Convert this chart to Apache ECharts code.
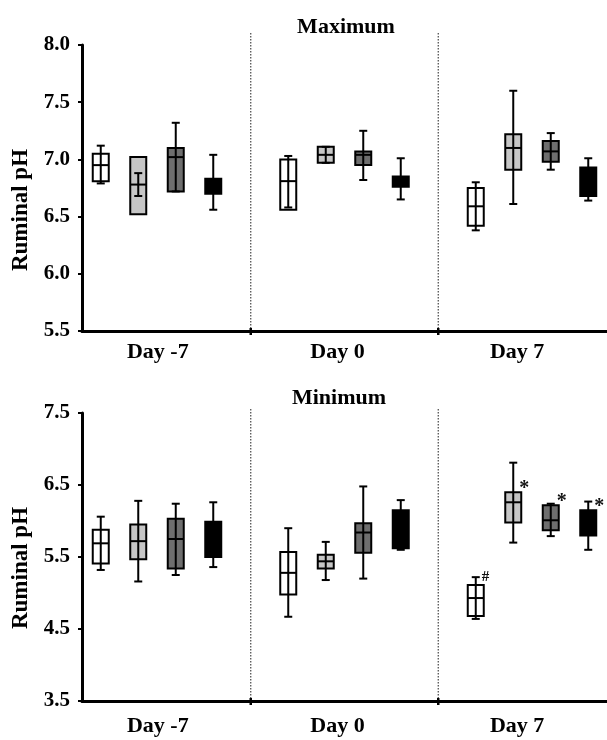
<!DOCTYPE html>
<html>
<head>
<meta charset="utf-8">
<script src="https://cdn.jsdelivr.net/npm/echarts@6/dist/echarts.min.js"></script>
<style>
html, body { margin: 0; padding: 0; background: #fff; }
#chart { width: 607px; height: 740px; }
</style>
</head>
<body>
<div id="chart"></div>
<script>
var days = ['Day -7', 'Day 0', 'Day 7'];
var groups = ['G1', 'G2', 'G3', 'G4'];
var groupColors = ['#ffffff', '#c6c6c6', '#6e6e6e', '#000000'];

// one row per day: [whisker low, box low, centre line, box high, whisker high]
var maxG1 = [[6.79, 6.81, 6.95, 7.05, 7.12], [6.58, 6.56, 6.81, 7.00, 7.03], [6.38, 6.42, 6.59, 6.75, 6.80]];
var maxG2 = [[6.68, 6.52, 6.78, 7.02, 6.88], [6.97, 6.97, 7.04, 7.11, 7.11], [6.61, 6.91, 7.10, 7.22, 7.60]];
var maxG3 = [[6.72, 6.72, 7.02, 7.10, 7.32], [6.82, 6.95, 7.04, 7.07, 7.25], [6.91, 6.98, 7.07, 7.16, 7.23]];
var maxG4 = [[6.56, 6.70, 6.76, 6.83, 7.04], [6.65, 6.76, 6.80, 6.85, 7.01], [6.64, 6.68, 6.81, 6.93, 7.01]];

var minG1 = [[5.32, 5.41, 5.69, 5.88, 6.06], [4.67, 4.98, 5.28, 5.57, 5.90], [4.64, 4.68, 4.93, 5.11, 5.22]];
var minG2 = [[5.16, 5.47, 5.72, 5.95, 6.28], [5.18, 5.34, 5.44, 5.53, 5.71], [5.70, 5.98, 6.26, 6.40, 6.81]];
var minG3 = [[5.25, 5.34, 5.75, 6.03, 6.24], [5.20, 5.56, 5.84, 5.97, 6.48], [5.79, 5.87, 6.01, 6.22, 6.24]];
var minG4 = [[5.36, 5.50, 5.75, 5.99, 6.26], [5.60, 5.62, 5.90, 6.15, 6.29], [5.60, 5.80, 5.98, 6.15, 6.27]];

// significance marks per group and day
var maxMarks = [['', '', ''], ['', '', ''], ['', '', ''], ['', '', '']];
var minMarks = [['', '', '#'], ['', '', '*'], ['', '', '*'], ['', '', '*']];

var maxTicks = [5.5, 8.0, 0.5];   // min, max, interval
var minTicks = [3.5, 7.5, 1];

var FONT = 'Liberation Serif';

// one slot per box, an empty slot between days
var slots = [], gapSlots = [];
days.forEach(function (d, di) {
    groups.forEach(function (g) { slots.push(d + ' ' + g); });
    if (di < days.length - 1) {
        slots.push('gap ' + di);
        gapSlots.push('gap ' + di);
    }
});

function buildPanel(seriesList, marks) {
    var data = [], fills = [], flags = [];
    seriesList.forEach(function (rows, gi) {
        rows.forEach(function (r, di) {
            data.push([days[di] + ' ' + groups[gi]].concat(r));
            fills.push(groupColors[gi]);
            flags.push(marks[gi][di]);
        });
    });
    return {data: data, fills: fills, marks: flags};
}

function boxRenderer(fills, marks) {
    return function (params, api) {
        var xi = api.value(0);
        var cx = api.coord([xi, api.value(3)])[0];
        var y = [1, 2, 3, 4, 5].map(function (d) { return api.coord([xi, api.value(d)])[1]; });
        var half = 8, cap = 4;
        var top = Math.min(y[1], y[3]), bot = Math.max(y[1], y[3]);
        var line = {stroke: '#000', lineWidth: 2};
        var children = [
            {type: 'rect', shape: {x: cx - half, y: top, width: half * 2, height: bot - top},
                style: {fill: fills[params.dataIndex], stroke: '#000', lineWidth: 2}},
            {type: 'line', shape: {x1: cx - half, y1: y[2], x2: cx + half, y2: y[2]}, style: line},
            {type: 'line', shape: {x1: cx, y1: y[0], x2: cx, y2: y[4]}, style: line},
            {type: 'line', shape: {x1: cx - cap, y1: y[0], x2: cx + cap, y2: y[0]}, style: line},
            {type: 'line', shape: {x1: cx - cap, y1: y[4], x2: cx + cap, y2: y[4]}, style: line}
        ];
        var m = marks[params.dataIndex];
        if (m) {
            var big = m === '*';
            children.push({type: 'text', x: cx + half - 2, y: top - (big ? 3 : 8),
                style: {text: m, fill: '#111', font: 'bold ' + (big ? 20 : 15) + 'px "' + FONT + '"',
                    align: 'left', verticalAlign: 'middle'}});
        }
        return {type: 'group', children: children};
    };
}

function dividerRenderer(extra) {
    return function (params, api) {
        var x = api.coord([api.value(0), 0])[0];
        var cs = params.coordSys;
        var bottom = cs.y + cs.height;
        return {type: 'group', children: [
            {type: 'line', shape: {x1: x, y1: cs.y - extra, x2: x, y2: bottom},
                style: {stroke: '#444', lineWidth: 1.2, lineDash: [1.5, 1.5]}},
            {type: 'line', shape: {x1: x, y1: bottom - 3, x2: x, y2: bottom + 4},
                style: {stroke: '#000', lineWidth: 2.5}}
        ]};
    };
}

var maxPanel = buildPanel([maxG1, maxG2, maxG3, maxG4], maxMarks);
var minPanel = buildPanel([minG1, minG2, minG3, minG4], minMarks);

function mainX(gi) {
    return {
        type: 'category', gridIndex: gi, data: slots, boundaryGap: true,
        axisLine: {lineStyle: {color: '#000', width: 3}},
        axisTick: {show: false}, axisLabel: {show: false}, splitLine: {show: false}
    };
}
function labelX(gi, margin) {
    return {
        type: 'category', gridIndex: gi, data: days,
        axisLine: {show: false}, axisTick: {show: false},
        axisLabel: {margin: margin, color: '#000', fontSize: 22, fontWeight: 'bold', fontFamily: FONT}
    };
}
function mainY(gi, t, pad) {
    return {
        type: 'value', gridIndex: gi, min: t[0], max: t[1], interval: t[2],
        name: 'Ruminal pH', nameLocation: 'middle', nameGap: 46,
        nameTextStyle: {color: '#000', fontSize: 23, fontWeight: 'bold', fontFamily: FONT, padding: [0, pad, 0, 0]},
        axisLine: {show: true, lineStyle: {color: '#000', width: 3}},
        axisTick: {show: true, length: 4, lineStyle: {color: '#000', width: 2}},
        axisLabel: {margin: 12, color: '#000', fontSize: 21, fontWeight: 'bold', fontFamily: FONT,
            formatter: function (v) { return v.toFixed(1); }},
        splitLine: {show: false}
    };
}

var chart = echarts.init(document.getElementById('chart'));
var option = {
    animation: false,
    backgroundColor: '#fff',
    title: [
        {text: 'Maximum', left: 341, top: 11, textAlign: 'center',
            textStyle: {color: '#000', fontSize: 22, fontWeight: 'bold', fontFamily: FONT}},
        {text: 'Minimum', left: 334, top: 382, textAlign: 'center',
            textStyle: {color: '#000', fontSize: 22, fontWeight: 'bold', fontFamily: FONT}}
    ],
    grid: [
        {left: 82, right: 0, top: 45, height: 286},
        {left: 82, right: 0, top: 413, height: 288},
        {left: 68, right: -20, top: 45, height: 286},
        {left: 68, right: -20, top: 413, height: 288}
    ],
    xAxis: [mainX(0), mainX(1), labelX(2, 10), labelX(3, 14)],
    yAxis: [
        mainY(0, maxTicks, 44),
        mainY(1, minTicks, 22),
        {type: 'value', gridIndex: 2, show: false, min: 0, max: 1},
        {type: 'value', gridIndex: 3, show: false, min: 0, max: 1}
    ],
    series: [
        {type: 'custom', name: 'dividers max', xAxisIndex: 0, yAxisIndex: 0,
            renderItem: dividerRenderer(12), encode: {x: 0, y: 1},
            data: gapSlots.map(function (s) { return [s, maxTicks[0]]; })},
        {type: 'custom', name: 'dividers min', xAxisIndex: 1, yAxisIndex: 1,
            renderItem: dividerRenderer(4), encode: {x: 0, y: 1},
            data: gapSlots.map(function (s) { return [s, minTicks[0]]; })},
        {type: 'custom', name: 'Maximum', xAxisIndex: 0, yAxisIndex: 0,
            renderItem: boxRenderer(maxPanel.fills, maxPanel.marks),
            encode: {x: 0, y: [1, 2, 3, 4, 5]}, data: maxPanel.data},
        {type: 'custom', name: 'Minimum', xAxisIndex: 1, yAxisIndex: 1,
            renderItem: boxRenderer(minPanel.fills, minPanel.marks),
            encode: {x: 0, y: [1, 2, 3, 4, 5]}, data: minPanel.data}
    ]
};
chart.setOption(option);
</script>
</body>
</html>
